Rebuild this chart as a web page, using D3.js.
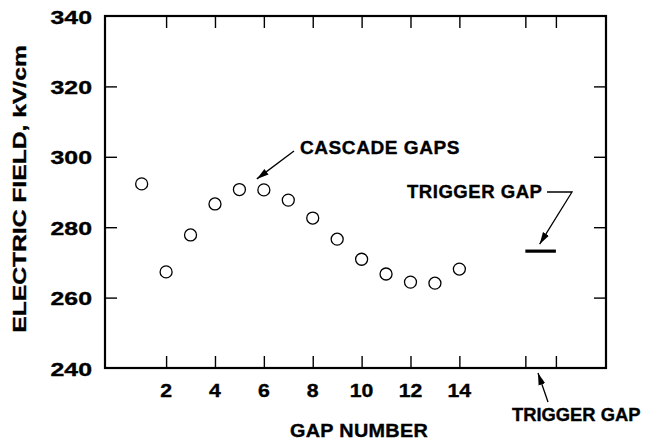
<!DOCTYPE html>
<html><head><meta charset="utf-8">
<script src="https://cdn.jsdelivr.net/npm/d3@7"></script>
<style>
body{margin:0;background:#fff;}
text{font-family:"Liberation Sans",Arial,sans-serif;font-weight:bold;fill:#000;stroke:#000;stroke-width:0.35px;}
</style></head>
<body><svg id="c" width="647" height="443"></svg>
<script>
const gaps = [1,2,3,4,5,6,7,8,9,10,11,12,13,14];
const field = [292.3,267.3,277.8,286.6,290.7,290.6,287.7,282.6,276.6,270.9,266.7,264.4,264.1,268.1];
const triggerGap = {x0:16.7, x1:17.95, value:273.2};
const xTicks = [2,4,6,8,10,12,14];
const xExtraTicks = [16.7,17.95];
const yTicks = [240,260,280,300,320,340];
const xLabel = "GAP NUMBER";
const yLabel = "ELECTRIC FIELD, kV/cm";
const cascadeLabel = "CASCADE GAPS";
const triggerLabel = "TRIGGER GAP";

const svg = d3.select("#c");
const L=105,R=606,T=16,B=368;
const x = d3.scaleLinear().domain([-0.5,20]).range([L,R]);
const y = d3.scaleLinear().domain([240,340]).range([B,T]);

function stext(g, str, px, py, size, k, anchor, rot, ls){
  return g.append("text").attr("font-size",size).attr("text-anchor",anchor||"start")
    .attr("letter-spacing",ls||0)
    .attr("transform",`translate(${px},${py})${rot?` rotate(${rot})`:""} scale(${k},1)`).text(str);
}

// axes
const tickLen=12;
const allX = xTicks.concat(xExtraTicks);
const gB = svg.append("g").attr("transform",`translate(0,${B})`)
  .call(d3.axisBottom(x).tickValues(allX).tickSize(-tickLen).tickFormat(""));
const gT = svg.append("g").attr("transform",`translate(0,${T})`)
  .call(d3.axisTop(x).tickValues(allX).tickSize(-tickLen).tickFormat(""));
const gL = svg.append("g").attr("transform",`translate(${L},0)`)
  .call(d3.axisLeft(y).tickValues(yTicks.slice(1,-1)).tickSize(-tickLen).tickFormat(""));
const gR = svg.append("g").attr("transform",`translate(${R},0)`)
  .call(d3.axisRight(y).tickValues(yTicks.slice(1,-1)).tickSize(-tickLen).tickFormat(""));
[gB,gT,gL,gR].forEach(g=>{
  g.select(".domain").remove();
  g.selectAll(".tick line").attr("stroke","#000").attr("stroke-width",1.4);
});
svg.append("rect").attr("x",L).attr("y",T).attr("width",R-L).attr("height",B-T)
  .attr("fill","none").attr("stroke","#000").attr("stroke-width",2.2);

// tick labels
yTicks.forEach(v=>stext(svg,String(v),92,y(v)+7.5,18,1.38,"end"));
xTicks.forEach(v=>stext(svg,String(v),x(v),397,18,1.18,"middle"));

// axis titles
stext(svg,xLabel,359,437,18,1.1,"middle",0,0.3);
stext(svg,yLabel,26,189,18,1.37,"middle",-90);

// data points
svg.append("g").selectAll("circle").data(gaps).join("circle")
  .attr("cx",d=>x(d)).attr("cy",(d,i)=>y(field[i])).attr("r",6)
  .attr("fill","none").attr("stroke","#000").attr("stroke-width",1.3);

// trigger gap bar
svg.append("line").attr("x1",x(triggerGap.x0)).attr("x2",x(triggerGap.x1))
  .attr("y1",y(triggerGap.value)).attr("y2",y(triggerGap.value))
  .attr("stroke","#000").attr("stroke-width",3.2);

// arrowhead marker
svg.append("defs").append("marker").attr("id","ah").attr("viewBox","0 0 12 10")
  .attr("refX",12).attr("refY",5).attr("markerWidth",12).attr("markerHeight",10)
  .attr("markerUnits","userSpaceOnUse").attr("orient","auto")
  .append("path").attr("d","M0,1.5 L12,5 L0,8.5 Z").attr("fill","#000");

// cascade annotation
stext(svg,cascadeLabel,300,154,18,1.06,"start",0,0.5);
svg.append("line").attr("x1",294).attr("y1",151).attr("x2",x(6)-7).attr("y2",y(field[5])-11)
  .attr("stroke","#000").attr("stroke-width",1.3).attr("marker-end","url(#ah)");

// trigger annotation (upper)
stext(svg,triggerLabel,407,198,18,1.03,"start",0,0.5);
svg.append("path").attr("d",`M547,192 L572,192 L${(x(triggerGap.x0)+x(triggerGap.x1))/2-1},${y(triggerGap.value)-7}`)
  .attr("fill","none").attr("stroke","#000").attr("stroke-width",1.3).attr("marker-end","url(#ah)");

// trigger annotation (lower)
stext(svg,triggerLabel,512,421,18,1.02,"start",0,0);
svg.append("line").attr("x1",548).attr("y1",402).attr("x2",538).attr("y2",B+5)
  .attr("stroke","#000").attr("stroke-width",1.3).attr("marker-end","url(#ah)");
</script></body></html>
